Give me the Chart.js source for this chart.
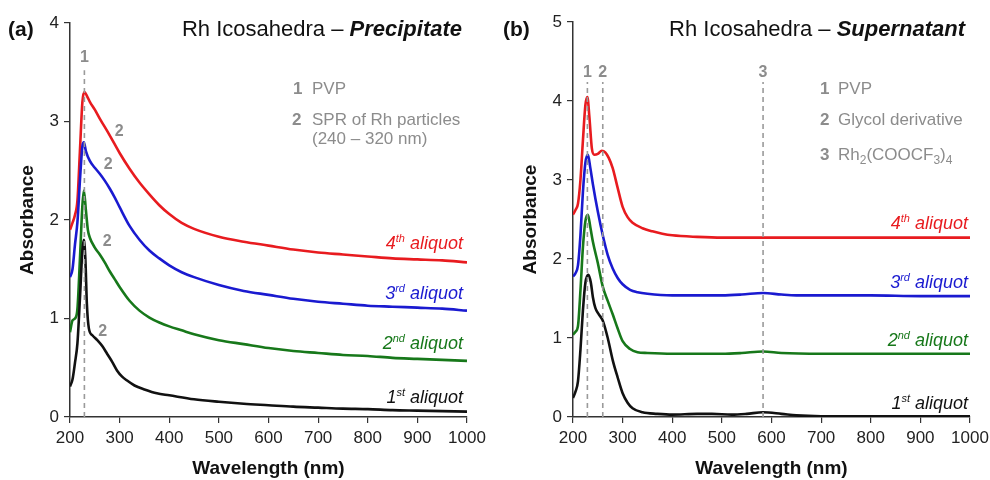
<!DOCTYPE html>
<html><head><meta charset="utf-8">
<script src="https://cdn.jsdelivr.net/npm/chart.js@4/dist/chart.umd.min.js"></script>
<style>
html,body{margin:0;padding:0;background:#fff;width:990px;height:480px;overflow:hidden}
canvas{position:absolute;top:0}
#ca{left:0}#cb{left:495px}
</style></head><body>
<canvas id="ca" width="495" height="480"></canvas>
<canvas id="cb" width="495" height="480"></canvas>
<script>
// ---------- tick labels ----------
const xTicks=[200,300,400,500,600,700,800,900,1000];
const yTicksA=[0,1,2,3,4];
const yTicksB=[0,1,2,3,4,5];

// ---------- panel (a) Precipitate ----------
const aWl1=[200,205,210,215,220,225,228,231,234,238,245,255,265,275,285,295,305,315,330,350,375,400,450,500,550,600,650,700,750,800,850,900,950,1000];
const aAbs1=[0.31,0.38,0.55,0.75,1.20,1.70,1.80,1.60,1.15,0.90,0.83,0.78,0.72,0.64,0.56,0.47,0.41,0.37,0.32,0.28,0.24,0.22,0.18,0.155,0.135,0.12,0.105,0.095,0.085,0.08,0.07,0.065,0.06,0.055];
const aWl2=[200,205,210,215,220,225,228,232,236,240,250,260,270,280,290,300,320,340,360,380,400,425,450,500,550,600,650,700,750,800,850,900,950,1000];
const aAbs2=[0.86,0.98,1.00,1.10,1.60,2.15,2.30,2.10,1.90,1.82,1.72,1.65,1.57,1.48,1.40,1.32,1.18,1.08,1.01,0.96,0.92,0.88,0.84,0.78,0.74,0.70,0.67,0.65,0.63,0.62,0.60,0.59,0.58,0.57];
const aWl3=[200,205,210,215,220,225,228,232,240,250,260,270,280,290,300,320,340,360,380,400,425,450,500,550,600,650,700,750,800,850,900,950,1000];
const aAbs3=[1.42,1.50,1.75,1.98,2.40,2.75,2.79,2.70,2.60,2.53,2.47,2.40,2.32,2.23,2.13,1.94,1.80,1.69,1.61,1.54,1.47,1.42,1.34,1.28,1.24,1.20,1.17,1.15,1.13,1.12,1.11,1.10,1.08];
const aWl4=[200,205,210,215,220,225,229,235,240,250,260,280,300,320,340,360,380,400,425,450,500,550,600,650,700,750,800,850,900,950,1000];
const aAbs4=[1.90,1.97,2.05,2.20,2.70,3.20,3.30,3.25,3.20,3.12,3.03,2.86,2.68,2.52,2.38,2.26,2.15,2.06,1.97,1.91,1.83,1.78,1.74,1.70,1.67,1.65,1.63,1.61,1.60,1.59,1.57];

// ---------- panel (b) Supernatant ----------
const bWl1=[200,205,210,215,220,225,231,236,240,245,252,260,270,280,290,300,310,320,340,370,400,450,480,520,550,583,620,650,700,800,900,1000];
const bAbs1=[0.24,0.32,0.45,0.85,1.35,1.70,1.80,1.70,1.52,1.38,1.30,1.22,1.00,0.72,0.50,0.30,0.18,0.11,0.06,0.04,0.03,0.04,0.04,0.03,0.04,0.06,0.04,0.02,0.01,0.01,0.01,0.01];
const bWl2=[200,205,210,215,220,225,230,235,240,250,260,270,280,290,300,315,330,350,400,450,500,540,583,620,700,800,900,1000];
const bAbs2=[1.04,1.08,1.15,1.60,2.15,2.48,2.56,2.40,2.22,1.95,1.65,1.47,1.30,1.12,0.96,0.86,0.82,0.81,0.80,0.80,0.80,0.81,0.83,0.81,0.80,0.80,0.80,0.80];
const bWl3=[200,205,210,215,220,225,230,235,240,250,260,270,280,290,300,315,330,350,400,450,500,540,583,620,650,700,800,900,1000];
const bAbs3=[1.78,1.82,1.92,2.30,2.85,3.22,3.32,3.15,2.95,2.60,2.30,2.05,1.88,1.76,1.68,1.61,1.58,1.56,1.54,1.54,1.54,1.55,1.57,1.55,1.54,1.54,1.54,1.53,1.53];
const bWl4=[200,205,210,215,220,225,229,233,238,243,250,258,265,272,280,290,300,310,320,340,360,380,400,450,500,600,700,800,900,1000];
const bAbs4=[2.56,2.62,2.70,3.00,3.50,3.95,4.05,3.80,3.40,3.32,3.33,3.37,3.35,3.28,3.15,2.90,2.66,2.53,2.46,2.39,2.35,2.32,2.30,2.28,2.27,2.27,2.27,2.27,2.27,2.27];

// marker (dashed line) wavelengths and heights
const aMarkWl=[229];
const aMarkTop=[3.52];
const bMarkWl=[229,260,583];
const bMarkTop=[4.24,4.24,4.24];

// ---------- styling ----------
const FAM='"Liberation Sans", Arial, Helvetica, sans-serif';
const COLORS=['#111111','#17781a','#1a1ad0','#e81b1f'];
const GREY='#8c8c8c';

function pts(wl,ab){return wl.map((w,i)=>({x:w,y:ab[i]}));}

function seriesSets(wls,abs){
  return wls.map((w,i)=>({data:pts(w,abs[i]),borderColor:COLORS[i],borderWidth:2.6,pointRadius:0,
    cubicInterpolationMode:'monotone',fill:false}));
}
function markSets(wls,tops){
  return wls.map((w,i)=>({data:[{x:w,y:0},{x:w,y:tops[i]}],borderColor:'#9a9a9a',borderWidth:1.6,
    borderDash:[5,4],pointRadius:0,fill:false}));
}

function rich(ctx,segs,x,y,align){
  let w=0;
  segs.forEach(s=>{ctx.font=s.f;s.w=ctx.measureText(s.t).width;w+=s.w;});
  let cx = align==='right'? x-w : (align==='center'? x-w/2 : x);
  ctx.textAlign='left';ctx.textBaseline='alphabetic';
  segs.forEach(s=>{ctx.font=s.f;ctx.fillStyle=s.c;ctx.fillText(s.t,cx,y+(s.dy||0));cx+=s.w;});
}

function aliq(num,sup,color,size){
  return [
    {t:num,f:`italic ${size}px ${FAM}`,c:color},
    {t:sup,f:`italic ${Math.round(size*0.62)}px ${FAM}`,c:color,dy:-size*0.38},
    {t:' aliquot',f:`italic ${size}px ${FAM}`,c:color}
  ];
}

function makeChart(id,wls,abs,markWl,markTop,yTicks,ymax,padR,annot){
  const ds=markSets(markWl,markTop).concat(seriesSets(wls,abs));
  return new Chart(document.getElementById(id),{
    type:'line',
    data:{datasets:ds},
    options:{
      responsive:false,animation:false,devicePixelRatio:1,
      layout:{padding:{left:0,top:annot.top,right:padR,bottom:0}},
      plugins:{legend:{display:false},tooltip:{enabled:false}},
      scales:{
        x:{type:'linear',min:200,max:1000,
          afterBuildTicks:s=>{s.ticks=xTicks.map(v=>({value:v}));},
          afterFit:s=>{s.height=63;s.paddingRight=0;s.paddingLeft=0;},
          ticks:{font:{family:FAM,size:17},color:'#222',padding:5,maxRotation:0,autoSkip:false,callback:v=>String(v)},
          grid:{drawOnChartArea:false,drawTicks:true,tickLength:6,color:'#333',lineWidth:1.2},
          border:{display:true,color:'#333',width:1.5}},
        y:{type:'linear',min:0,max:ymax,
          afterBuildTicks:s=>{s.ticks=yTicks.map(v=>({value:v}));},
          afterFit:s=>{s.width=annot.left;s.paddingTop=0;s.paddingBottom=0;},
          ticks:{font:{family:FAM,size:17},color:'#222',padding:5,callback:v=>String(v)},
          grid:{drawOnChartArea:false,drawTicks:true,tickLength:6,color:'#333',lineWidth:1.2},
          border:{display:true,color:'#333',width:1.5}}
      }
    },
    plugins:[{id:'ann',afterDraw:(c)=>annot.draw(c)}]
  });
}

function commonText(c,ctx,letter,titleA,titleB,titleRight){
  const ca=c.chartArea;
  rich(ctx,[{t:letter,f:`bold 21px ${FAM}`,c:'#111'}],8,36,'left');
  rich(ctx,[{t:titleA,f:`22px ${FAM}`,c:'#111'},{t:titleB,f:`italic bold 22px ${FAM}`,c:'#111'}],titleRight,36,'right');
  rich(ctx,[{t:'Wavelength (nm)',f:`bold 19px ${FAM}`,c:'#111'}],(ca.left+ca.right)/2,474,'center');
  ctx.save();
  ctx.translate(ca.left-44,(ca.top+ca.bottom)/2);
  ctx.rotate(-Math.PI/2);
  rich(ctx,[{t:'Absorbance',f:`bold 19px ${FAM}`,c:'#111'}],0,7,'center');
  ctx.restore();
}

makeChart('ca',[aWl1,aWl2,aWl3,aWl4],[aAbs1,aAbs2,aAbs3,aAbs4],aMarkWl,aMarkTop,yTicksA,4,28,{
  top:23,left:70,
  draw:(c)=>{
    const ctx=c.ctx,x=c.scales.x,y=c.scales.y;
    commonText(c,ctx,'(a)','Rh Icosahedra – ','Precipitate',462);
    const nb=`bold 16px ${FAM}`;
    rich(ctx,[{t:'1',f:nb,c:GREY}],x.getPixelForValue(229),y.getPixelForValue(3.67)+6,'center');
    [[299,2.91],[277,2.58],[275,1.80],[266,0.88]].forEach(p=>{
      rich(ctx,[{t:'2',f:nb,c:GREY}],x.getPixelForValue(p[0]),y.getPixelForValue(p[1])+6,'center');
    });
    const lf=`17px ${FAM}`,lb=`bold 17px ${FAM}`;
    rich(ctx,[{t:'1',f:lb,c:GREY}],293,94,'left');
    rich(ctx,[{t:'PVP',f:lf,c:GREY}],312,94,'left');
    rich(ctx,[{t:'2',f:lb,c:GREY}],292,125,'left');
    rich(ctx,[{t:'SPR of Rh particles',f:lf,c:GREY}],312,125,'left');
    rich(ctx,[{t:'(240 – 320 nm)',f:lf,c:GREY}],312,144,'left');
    rich(ctx,aliq('4','th',COLORS[3],18),463,249,'right');
    rich(ctx,aliq('3','rd',COLORS[2],18),463,299,'right');
    rich(ctx,aliq('2','nd',COLORS[1],18),463,349,'right');
    rich(ctx,aliq('1','st',COLORS[0],18),463,403,'right');
  }
});

makeChart('cb',[bWl1,bWl2,bWl3,bWl4],[bAbs1,bAbs2,bAbs3,bAbs4],bMarkWl,bMarkTop,yTicksB,5,20,{
  top:22,left:78,
  draw:(c)=>{
    const ctx=c.ctx,x=c.scales.x,y=c.scales.y;
    commonText(c,ctx,'(b)','Rh Icosahedra – ','Supernatant',470);
    const nb=`bold 16px ${FAM}`;
    ['1','2','3'].forEach((n,i)=>{
      rich(ctx,[{t:n,f:nb,c:GREY}],x.getPixelForValue(bMarkWl[i]),y.getPixelForValue(4.38)+6,'center');
    });
    const lf=`17px ${FAM}`,lb=`bold 17px ${FAM}`,sf=`12px ${FAM}`;
    rich(ctx,[{t:'1',f:lb,c:GREY}],325,94,'left');
    rich(ctx,[{t:'PVP',f:lf,c:GREY}],343,94,'left');
    rich(ctx,[{t:'2',f:lb,c:GREY}],325,125,'left');
    rich(ctx,[{t:'Glycol derivative',f:lf,c:GREY}],343,125,'left');
    rich(ctx,[{t:'3',f:lb,c:GREY}],325,160,'left');
    rich(ctx,[{t:'Rh',f:lf,c:GREY},{t:'2',f:sf,c:GREY,dy:4},{t:'(COOCF',f:lf,c:GREY},{t:'3',f:sf,c:GREY,dy:4},{t:')',f:lf,c:GREY},{t:'4',f:sf,c:GREY,dy:4}],343,160,'left');
    rich(ctx,aliq('4','th',COLORS[3],18),473,229,'right');
    rich(ctx,aliq('3','rd',COLORS[2],18),473,288,'right');
    rich(ctx,aliq('2','nd',COLORS[1],18),473,346,'right');
    rich(ctx,aliq('1','st',COLORS[0],18),473,409,'right');
  }
});
</script>
</body></html>
